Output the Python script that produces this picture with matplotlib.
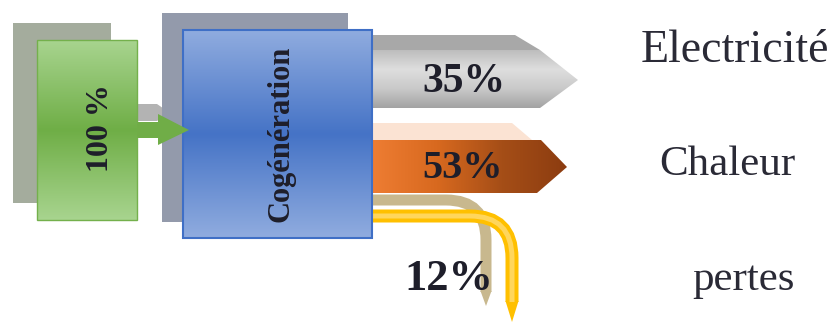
import numpy as np
import matplotlib.pyplot as plt
from matplotlib.patches import Polygon, PathPatch
from matplotlib.path import Path
from matplotlib.colors import LinearSegmentedColormap

# données du schéma
input_label = "100 %"
unit_label = "Cogénération"
outputs = ["Electricité", "Chaleur", "pertes"]
shares = [35, 53, 12]

W, H = 836, 323
SERIF = "Liberation Serif"
TXT = "#1e1e2a"


def grad_poly(ax, verts, stops, vertical=True, z=1, edge="none", lw=1.0):
    """Polygone rempli d'un dégradé (imshow découpé par le polygone)."""
    verts = np.asarray(verts, float)
    x0, y0 = verts.min(0)
    x1, y1 = verts.max(0)
    cmap = LinearSegmentedColormap.from_list("g", stops)
    t = np.linspace(0, 1, 256)
    data = t[:, None] if vertical else t[None, :]
    im = ax.imshow(data, cmap=cmap, extent=[x0, x1, y1, y0], origin="upper",
                   aspect="auto", zorder=z, interpolation="bilinear")
    patch = Polygon(verts, closed=True, facecolor="none", edgecolor=edge,
                    lw=lw, zorder=z + 0.1)
    ax.add_patch(patch)
    im.set_clip_path(patch)
    return patch


def rect(x0, y0, x1, y1):
    return [(x0, y0), (x1, y0), (x1, y1), (x0, y1)]


def pipe(ax, y, x_turn, x_v, y_end, width_px, color, z):
    """Tuyau horizontal qui tourne vers le bas."""
    r = x_v - x_turn
    verts = [(372, y), (x_turn, y), (x_v, y), (x_v, y + r), (x_v, y_end)]
    codes = [Path.MOVETO, Path.LINETO, Path.CURVE3, Path.CURVE3, Path.LINETO]
    ax.add_patch(PathPatch(Path(verts, codes), facecolor="none", edgecolor=color,
                           lw=width_px * 0.72, capstyle="butt", zorder=z))


fig = plt.figure(figsize=(W / 100, H / 100), dpi=100)
ax = fig.add_axes([0, 0, 1, 1])

# entrée : 100 %
ax.add_patch(Polygon(rect(13, 23, 111, 203), facecolor="#a4ac9d", zorder=1))
grad_poly(ax, rect(37, 40, 137, 220), ["#a8d48f", "#6fae46", "#a8d48f"], z=2,
          edge="#74b04c")
ax.text(100, 128, input_label, rotation=90, ha="center", va="center",
        fontsize=23, fontweight="bold", family=SERIF, color=TXT, zorder=5)

# flèche verte vers la cogénération
ax.add_patch(Polygon([(137, 104), (157, 104), (170, 113), (157, 121), (137, 121)],
                     facecolor="#b3b3b3", zorder=1.5))
ax.add_patch(Polygon([(137, 122), (158, 122), (158, 114), (189, 130), (158, 145),
                      (158, 138), (137, 138)], facecolor="#70ad47", zorder=4.5))

# tuyaux des pertes
pipe(ax, 200, 446, 486, 292, 11, "#c8b88e", 1)
ax.add_patch(Polygon([(480.5, 291), (491.5, 291), (486, 306)], facecolor="#c8b88e",
                     zorder=1))
pipe(ax, 216, 470, 512, 302, 13, "#ffc000", 1.3)
pipe(ax, 216, 470, 512, 302, 5, "#ffd65c", 1.4)
ax.add_patch(Polygon([(505.5, 301), (518.5, 301), (512, 322)], facecolor="#ffc000",
                     zorder=1.3))

# bloc cogénération
ax.add_patch(Polygon(rect(162, 13, 348, 222), facecolor="#939aab", zorder=3))
grad_poly(ax, rect(183, 30, 372, 238), ["#90acdf", "#4573c6", "#90acdf"], z=4,
          edge="#3f6fc6", lw=1.5)
ax.text(281, 134, unit_label, rotation=90, ha="center", va="center",
        fontsize=22, fontweight="bold", family=SERIF, color=TXT, zorder=5)

# flèche électricité (3D)
ax.add_patch(Polygon([(372, 35), (515, 35), (540, 50), (372, 50)],
                     facecolor="#a8a8a8", zorder=2))
grad_poly(ax, [(372, 50), (540, 50), (578, 80), (540, 108), (372, 108)],
          ["#bdbdbd", "#dedede", "#c9c9c9", "#a3a3a3"], z=2)
ax.text(464, 82, f"{shares[0]}%", ha="center", va="center", fontsize=30,
        fontweight="bold", family=SERIF, color=TXT, zorder=5)

# flèche chaleur (3D)
ax.add_patch(Polygon([(372, 123), (512, 123), (532, 140), (372, 140)],
                     facecolor="#fbe3d3", zorder=2))
grad_poly(ax, [(372, 140), (541, 140), (567, 167), (537, 193), (372, 193)],
          ["#ee7d33", "#d8691f", "#a54e17", "#8c3c10"], vertical=False, z=2)
ax.text(463, 168, f"{shares[1]}%", ha="center", va="center", fontsize=29,
        fontweight="bold", family=SERIF, color=TXT, zorder=5)

ax.text(449, 279, f"{shares[2]}%", ha="center", va="center", fontsize=32,
        fontweight="bold", family=SERIF, color=TXT, zorder=5)

# étiquettes de droite
ax.text(735, 51, outputs[0], ha="center", va="center", fontsize=33,
        family=SERIF, color="#2a2a36")
ax.text(727, 165, outputs[1], ha="center", va="center", fontsize=31,
        family=SERIF, color="#2a2a36")
ax.text(743, 280, outputs[2], ha="center", va="center", fontsize=31,
        family=SERIF, color="#2a2a36")

ax.set_xlim(0, W)
ax.set_ylim(H, 0)
ax.axis("off")
fig.savefig("out.png", dpi=100)
